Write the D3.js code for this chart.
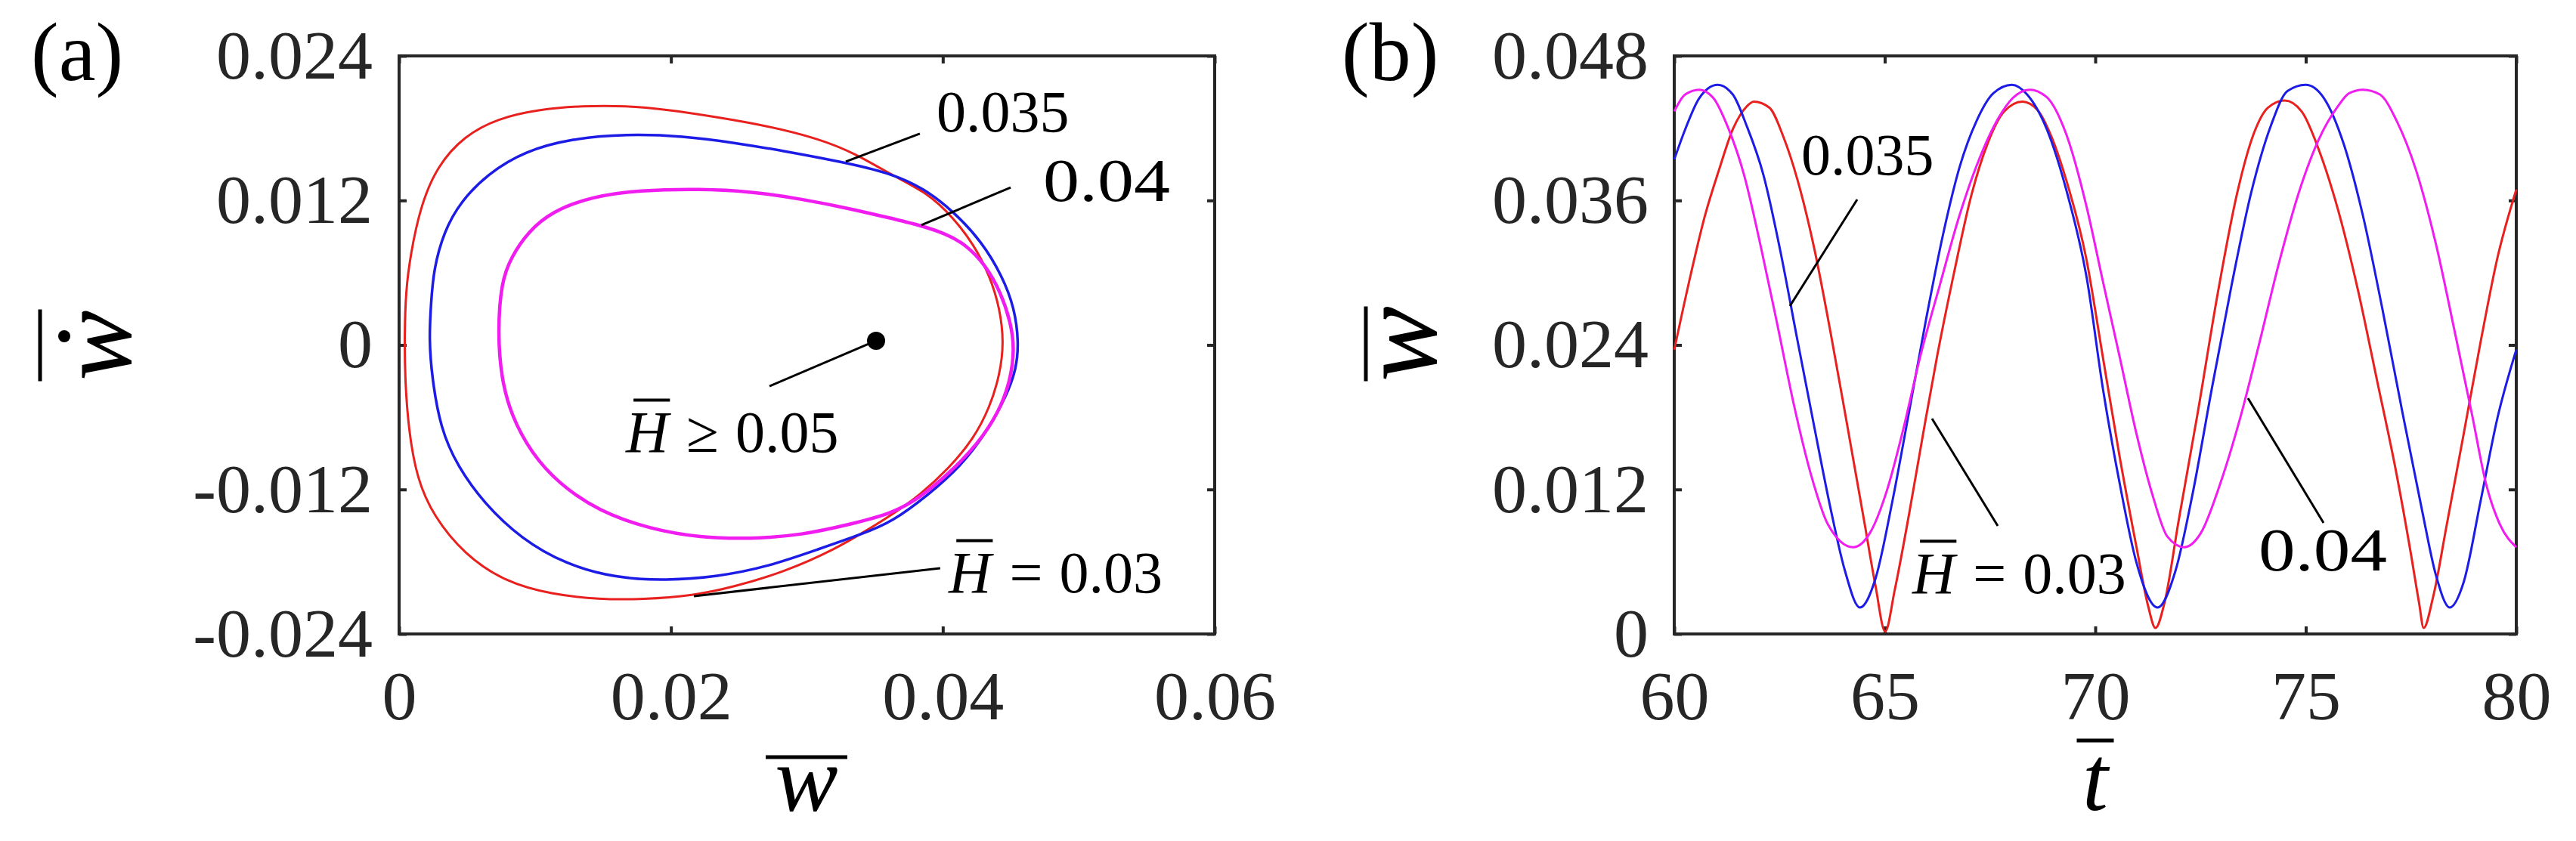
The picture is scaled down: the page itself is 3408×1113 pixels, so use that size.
<!DOCTYPE html>
<html>
<head>
<meta charset="utf-8">
<script src="https://cdn.jsdelivr.net/npm/d3@7"></script>
<style>
  body { margin: 0; background: #fff; }
  svg { display: block; }
</style>
</head>
<body>
<div id="chart"></div>
<script>
// ---- data ----

// (a) phase portraits [w, dw/dt], one closed loop per H
const loop003 = [
  [0.00043, -0.0027], [0.0004, 0.0010], [0.0005, 0.0045], [0.00081, 0.00731],
  [0.00155, 0.01146], [0.00279, 0.01484], [0.00478, 0.01735], [0.00726, 0.01881],
  [0.01024, 0.01955], [0.01347, 0.01986], [0.0167, 0.01986], [0.01967, 0.01955],
  [0.0234, 0.01892], [0.02712, 0.01819], [0.03085, 0.01714], [0.03358, 0.01589],
  [0.03606, 0.01421], [0.03893, 0.0126], [0.04074, 0.0106], [0.04226, 0.00838],
  [0.04347, 0.00572], [0.04419, 0.00306], [0.0445, 0.00018], [0.04419, -0.00248],
  [0.04347, -0.00515], [0.04226, -0.00781], [0.04044, -0.01025], [0.03832, -0.01246],
  [0.03626, -0.0141], [0.03457, -0.01528], [0.03209, -0.01696], [0.02836, -0.01884],
  [0.02464, -0.02009], [0.02166, -0.02082], [0.01793, -0.02113], [0.01471, -0.02113],
  [0.01123, -0.02072], [0.00776, -0.01967], [0.00478, -0.01737], [0.00254, -0.01423],
  [0.0013, -0.0111], [0.00068, -0.00691]
];
const loop0035 = [
  [0.00242, -0.00273], [0.0022, 0.0005], [0.00235, 0.0035], [0.00254, 0.00626],
  [0.00329, 0.0094], [0.00453, 0.01191], [0.00652, 0.01421], [0.00925, 0.0161],
  [0.01272, 0.01714], [0.0167, 0.01752], [0.02092, 0.01735], [0.02464, 0.0168],
  [0.02836, 0.0161], [0.03258, 0.0152], [0.03606, 0.0143], [0.03862, 0.013],
  [0.04074, 0.01113], [0.04286, 0.0086], [0.04437, 0.00572], [0.04528, 0.00306],
  [0.04559, 0.00018], [0.0454, -0.00204], [0.04468, -0.00426], [0.04316, -0.00736],
  [0.04135, -0.01003], [0.03893, -0.01246], [0.03626, -0.0147], [0.03407, -0.0157],
  [0.03085, -0.01696], [0.02712, -0.01842], [0.0234, -0.01925], [0.01967, -0.01957],
  [0.01595, -0.01936], [0.01223, -0.01821], [0.009, -0.01611], [0.00627, -0.01319],
  [0.00428, -0.01005], [0.00304, -0.00691]
];
const loop004 = [
  [0.00751, -0.00273], [0.00726, 0.00104], [0.00751, 0.00522], [0.00825, 0.00731],
  [0.0095, 0.0094], [0.01123, 0.01108], [0.01421, 0.01233], [0.01768, 0.01285],
  [0.02216, 0.01296], [0.02588, 0.01275], [0.02961, 0.01212], [0.03333, 0.01128],
  [0.03606, 0.01055], [0.03832, 0.00994], [0.04014, 0.00927], [0.04165, 0.00838],
  [0.04316, 0.00661], [0.04425, 0.00439], [0.04498, 0.00195], [0.04528, -0.00027],
  [0.04498, -0.00293], [0.04413, -0.00559], [0.04256, -0.00825], [0.04044, -0.01069],
  [0.03832, -0.01269], [0.03626, -0.014], [0.03333, -0.01486], [0.02961, -0.0158],
  [0.02588, -0.01611], [0.02216, -0.01601], [0.01843, -0.01528], [0.01471, -0.01382],
  [0.01173, -0.01151], [0.00974, -0.009], [0.00825, -0.00587]
];
const fixedPoint = [0.03509, 0.00035];

// (b) time histories [t, w]
const series003 = [
  [60, 0.0236], [60.395, 0.0299], [60.727, 0.0347], [61.06, 0.0385], [61.39, 0.0419],
  [61.72, 0.0438], [61.89, 0.0442], [62.26, 0.0437], [62.59, 0.0413], [62.92, 0.0378],
  [63.32, 0.0321], [63.72, 0.0249], [64.11, 0.0173], [64.51, 0.0094], [64.78, 0.004],
  [65.01, 0.0002], [65.24, 0.0037], [65.58, 0.01], [65.91, 0.0166], [66.24, 0.023],
  [66.64, 0.0299], [67.04, 0.0362], [67.44, 0.0407], [67.84, 0.0434], [68.27, 0.0442],
  [68.63, 0.0435], [68.97, 0.0412], [69.31, 0.0377], [69.785, 0.0312], [70.18, 0.023],
  [70.58, 0.0147], [70.98, 0.0072], [71.25, 0.0024], [71.43, 0.0005], [71.645, 0.0026],
  [71.98, 0.0094], [72.44, 0.0185], [72.91, 0.0283], [73.37, 0.0366], [73.77, 0.0416],
  [74.1, 0.0437], [74.5, 0.0443], [74.9, 0.0434], [75.3, 0.0403], [75.76, 0.0353],
  [76.23, 0.0287], [76.69, 0.0211], [77.16, 0.0132], [77.49, 0.0068], [77.69, 0.0026],
  [77.8, 0.0005], [78.02, 0.003], [78.35, 0.0091], [78.75, 0.0166], [79.15, 0.0242],
  [79.55, 0.0312], [80, 0.0369]
];
const series0035 = [
  [60, 0.0394], [60.26, 0.0419], [60.595, 0.0445], [61.03, 0.0456], [61.39, 0.0448],
  [61.72, 0.0422], [62.12, 0.0381], [62.52, 0.0318], [62.92, 0.0245], [63.32, 0.0173],
  [63.72, 0.0103], [64.05, 0.0053], [64.41, 0.0022], [64.78, 0.0046], [65.18, 0.011],
  [65.58, 0.0185], [65.98, 0.0261], [66.38, 0.0331], [66.78, 0.0388], [67.18, 0.0426],
  [67.58, 0.0449], [68.02, 0.0456], [68.38, 0.0448], [68.85, 0.0419], [69.31, 0.0369],
  [69.8, 0.0295], [70.18, 0.0204], [70.58, 0.0125], [70.98, 0.0059], [71.48, 0.0022],
  [71.91, 0.0053], [72.31, 0.0116], [72.77, 0.0204], [73.24, 0.029], [73.7, 0.0366],
  [74.17, 0.0422], [74.57, 0.0451], [75, 0.0456], [75.43, 0.0445], [75.9, 0.0407],
  [76.36, 0.0347], [76.83, 0.0268], [77.29, 0.0185], [77.76, 0.0103], [78.09, 0.0049],
  [78.42, 0.0022], [78.75, 0.0043], [79.15, 0.011], [79.55, 0.0179], [80, 0.0236]
];
const series004 = [
  [60, 0.0434], [60.26, 0.0448], [60.595, 0.0452], [60.93, 0.0445], [61.26, 0.0422],
  [61.66, 0.0381], [62.06, 0.0321], [62.46, 0.0255], [62.85, 0.0189], [63.25, 0.0132],
  [63.65, 0.0091], [64.25, 0.0072], [64.65, 0.0084], [65.05, 0.0119], [65.44, 0.017],
  [65.84, 0.023], [66.31, 0.029], [66.77, 0.0347], [67.24, 0.0394], [67.71, 0.0429],
  [68.04, 0.0445], [68.44, 0.0452], [68.84, 0.0446], [69.31, 0.0415], [69.785, 0.0356],
  [70.18, 0.0293], [70.58, 0.023], [70.98, 0.0166], [71.38, 0.0113], [71.71, 0.0081],
  [72.11, 0.0072], [72.51, 0.0084], [72.97, 0.0125], [73.44, 0.0179], [73.9, 0.0242],
  [74.37, 0.0309], [74.83, 0.0366], [75.3, 0.041], [75.76, 0.0438], [76.03, 0.0449],
  [76.36, 0.0452], [76.76, 0.0448], [77.16, 0.0426], [77.62, 0.0385], [78.09, 0.0324],
  [78.55, 0.0249], [78.95, 0.0182], [79.28, 0.0125], [79.61, 0.0091], [80, 0.0072]
];

// ticks
const aXTicks = [0, 0.02, 0.04, 0.06];
const aXLabels = ['0', '0.02', '0.04', '0.06'];
const aYTicks = [-0.024, -0.012, 0, 0.012, 0.024];
const aYLabels = ['-0.024', '-0.012', '0', '0.012', '0.024'];
const bXTicks = [60, 65, 70, 75, 80];
const bXLabels = ['60', '65', '70', '75', '80'];
const bYTicks = [0, 0.012, 0.024, 0.036, 0.048];
const bYLabels = ['0', '0.012', '0.024', '0.036', '0.048'];

// ---- drawing ----
const serif = '"Liberation Serif", "Times New Roman", serif';
const axisColor = '#262626';
const colors = { h003: '#e8211f', h0035: '#1c1ce6', h004: '#f01cf0' };

const svg = d3.select('#chart')
  .append('svg')
  .attr('width', 3408)
  .attr('height', 1113);

svg.append('rect')
  .attr('width', 3408)
  .attr('height', 1113)
  .attr('fill', '#fff');

const xa = d3.scaleLinear().domain([0, 0.06]).range([528, 1607]);
const ya = d3.scaleLinear().domain([-0.024, 0.024]).range([839, 74]);
const xb = d3.scaleLinear().domain([60, 80]).range([2215, 3329]);
const yb = d3.scaleLinear().domain([0, 0.048]).range([839, 74]);

function labelFormat(ticks, labels) {
  return v => labels[ticks.indexOf(v)];
}

function styleAxis(sel) {
  sel.select('.domain').remove();
  sel.selectAll('.tick line')
    .attr('stroke', axisColor)
    .attr('stroke-width', 4);
  sel.selectAll('.tick text')
    .attr('fill', axisColor)
    .style('font-family', serif)
    .style('font-size', '92px');
}

function drawAxes(x, y, xTicks, xLabels, yTicks, yLabels, yPad) {
  const [x0, x1] = x.range();
  const [y0, y1] = y.range();
  const g = svg.append('g');

  g.append('g')
    .attr('transform', `translate(0,${y0})`)
    .call(d3.axisBottom(x).tickValues(xTicks).tickFormat(labelFormat(xTicks, xLabels))
      .tickSize(-10).tickPadding(48))
    .call(styleAxis);

  g.append('g')
    .attr('transform', `translate(0,${y1})`)
    .call(d3.axisTop(x).tickValues(xTicks).tickFormat(() => '').tickSize(-10))
    .call(styleAxis);

  g.append('g')
    .attr('transform', `translate(${x0},0)`)
    .call(d3.axisLeft(y).tickValues(yTicks).tickFormat(labelFormat(yTicks, yLabels))
      .tickSize(-10).tickPadding(yPad))
    .call(styleAxis);

  g.append('g')
    .attr('transform', `translate(${x1},0)`)
    .call(d3.axisRight(y).tickValues(yTicks).tickFormat(() => '').tickSize(-10))
    .call(styleAxis);

  g.append('rect')
    .attr('x', x0)
    .attr('y', y1)
    .attr('width', x1 - x0)
    .attr('height', y0 - y1)
    .attr('fill', 'none')
    .attr('stroke', axisColor)
    .attr('stroke-width', 4);
}

function drawCurve(data, x, y, curve, color, width) {
  const line = d3.line()
    .x(d => x(d[0]))
    .y(d => y(d[1]))
    .curve(curve);

  svg.append('path')
    .datum(data)
    .attr('d', line)
    .attr('fill', 'none')
    .attr('stroke', color)
    .attr('stroke-width', width)
    .attr('stroke-linejoin', 'round');
}

function pointer(x, y, from, to) {
  svg.append('line')
    .attr('x1', x(from[0])).attr('y1', y(from[1]))
    .attr('x2', x(to[0])).attr('y2', y(to[1]))
    .attr('stroke', '#000')
    .attr('stroke-width', 3);
}

function plainLabel(x, y, at, str, opts = {}) {
  const t = svg.append('text')
    .attr('x', x(at[0]))
    .attr('y', y(at[1]))
    .attr('fill', '#000')
    .style('font-family', serif)
    .style('font-size', (opts.size || 78) + 'px')
    .text(str);
  if (opts.length) {
    t.attr('textLength', opts.length).attr('lengthAdjust', 'spacingAndGlyphs');
  }
}

// "H-bar <rel> value"
function hLabel(x, y, at, rel, value) {
  const size = 78;
  const px = x(at[0]);
  const py = y(at[1]);
  const t = svg.append('text')
    .attr('x', px)
    .attr('y', py)
    .attr('fill', '#000')
    .style('font-family', serif)
    .style('font-size', size + 'px');
  t.append('tspan').style('font-style', 'italic').text('H');
  t.append('tspan').attr('dx', 24).text(rel);
  t.append('tspan').attr('dx', 22).text(value);

  const ext = t.node().getExtentOfChar(0);
  svg.append('line')
    .attr('x1', ext.x + 0.13 * size)
    .attr('x2', ext.x + ext.width + 2)
    .attr('y1', py - 0.88 * size)
    .attr('y2', py - 0.88 * size)
    .attr('stroke', '#000')
    .attr('stroke-width', 4);
}

// italic axis symbol with an overbar (and optional dot), baseline at (cx, by)
function axisSymbol(cx, by, ch, opts) {
  const g = svg.append('g')
    .attr('transform', `translate(${cx},${by}) rotate(${opts.rotate || 0})`);

  g.append('text')
    .attr('text-anchor', 'middle')
    .attr('fill', '#000')
    .style('font-family', serif)
    .style('font-style', 'italic')
    .style('font-size', opts.size + 'px')
    .text(ch);

  g.append('line')
    .attr('x1', (opts.shift || 0) - opts.bar / 2)
    .attr('x2', (opts.shift || 0) + opts.bar / 2)
    .attr('y1', -opts.barY)
    .attr('y2', -opts.barY)
    .attr('stroke', '#000')
    .attr('stroke-width', 5);

  if (opts.dotY) {
    g.append('circle')
      .attr('cx', opts.dotX || 0)
      .attr('cy', -opts.dotY)
      .attr('r', 8)
      .attr('fill', '#000');
  }
}

// panel (a)
drawAxes(xa, ya, aXTicks, aXLabels, aYTicks, aYLabels, 35);
drawCurve(loop003, xa, ya, d3.curveBasisClosed, colors.h003, 3);
drawCurve(loop0035, xa, ya, d3.curveBasisClosed, colors.h0035, 3.5);
drawCurve(loop004, xa, ya, d3.curveBasisClosed, colors.h004, 4.5);

svg.append('circle')
  .attr('cx', xa(fixedPoint[0]))
  .attr('cy', ya(fixedPoint[1]))
  .attr('r', 12)
  .attr('fill', '#000');

pointer(xa, ya, fixedPoint, [0.02725, -0.00342]);
pointer(xa, ya, [0.03286, 0.01522], [0.03831, 0.01754]);
pointer(xa, ya, [0.03842, 0.00995], [0.04499, 0.01308]);
pointer(xa, ya, [0.02169, -0.02086], [0.03981, -0.01854]);

plainLabel(xa, ya, [0.03954, 0.01773], '0.035');
plainLabel(xa, ya, [0.04738, 0.01195], '0.04', { size: 80, length: 168 });
hLabel(xa, ya, [0.01668, -0.00888], '\u2265', '0.05');
hLabel(xa, ya, [0.04043, -0.02055], '=', '0.03');

// panel (b)
drawAxes(xb, yb, bXTicks, bXLabels, bYTicks, bYLabels, 34);
drawCurve(series003, xb, yb, d3.curveMonotoneX, colors.h003, 3);
drawCurve(series0035, xb, yb, d3.curveMonotoneX, colors.h0035, 3);
drawCurve(series004, xb, yb, d3.curveMonotoneX, colors.h004, 3);

pointer(xb, yb, [64.345, 0.03608], [62.747, 0.02723]);
pointer(xb, yb, [66.122, 0.01788], [67.684, 0.00897]);
pointer(xb, yb, [73.627, 0.01958], [75.422, 0.00922]);

plainLabel(xb, yb, [63.016, 0.03815], '0.035');
plainLabel(xb, yb, [73.878, 0.00527], '0.04', { size: 80, length: 170 });
hLabel(xb, yb, [65.655, 0.00339], '=', '0.03');

// axis titles
axisSymbol(1067, 1073, 'w', { size: 125, bar: 108, barY: 71 });
axisSymbol(173, 457, 'w', { size: 140, bar: 95, barY: 120, rotate: -90, dotY: 88, dotX: 12 });
axisSymbol(2772, 1072, 't', { size: 122, bar: 49, barY: 92 });
axisSymbol(1900, 455, 'w', { size: 150, bar: 99, barY: 93, rotate: -90 });

// panel letters
svg.append('text').attr('x', 41).attr('y', 106)
  .style('font-family', serif).style('font-size', '110px').text('(a)');
svg.append('text').attr('x', 1775).attr('y', 106)
  .style('font-family', serif).style('font-size', '110px').text('(b)');
</script>
</body>
</html>
